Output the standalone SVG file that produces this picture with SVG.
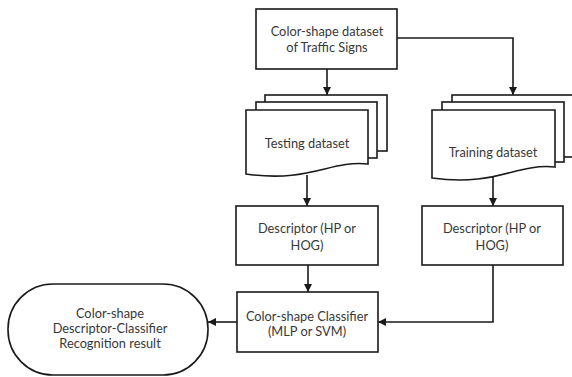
<svg xmlns="http://www.w3.org/2000/svg" width="572" height="377" viewBox="0 0 572 377">
  <style>
    .box { fill: #ffffff; stroke: #1a1a1a; stroke-width: 1.6; }
    .edge { fill: none; stroke: #1a1a1a; stroke-width: 1.6; }
    .lbl { font-family: Lato, "Open Sans", sans-serif; font-size: 12.8px; fill: #383838; text-anchor: middle; }
  </style>
  <defs>
    <marker id="arrow" viewBox="0 0 10 10" refX="10" refY="5" markerWidth="8" markerHeight="8" markerUnits="userSpaceOnUse" orient="auto">
      <path d="M0,0 L10,5 L0,10 z" fill="#1a1a1a"/>
    </marker>
  </defs>
  <rect width="572" height="377" fill="#ffffff"/>

  <g id="connectors">
    <path class="edge" d="M327,69 V95" marker-end="url(#arrow)"/>
    <path class="edge" d="M397,38 H513 V95" marker-end="url(#arrow)"/>
    <path class="edge" d="M307,175 V206" marker-end="url(#arrow)"/>
    <path class="edge" d="M493,176 V206" marker-end="url(#arrow)"/>
    <path class="edge" d="M308,265 V292" marker-end="url(#arrow)"/>
    <path class="edge" d="M493,265 V322 H378" marker-end="url(#arrow)"/>
    <path class="edge" d="M237,322 H208" marker-end="url(#arrow)"/>
  </g>

  <g id="source">
    <rect class="box" x="256" y="9" width="141" height="60"/>
    <text class="lbl" x="327" y="36">Color-shape dataset</text>
    <text class="lbl" x="327" y="52">of Traffic Signs</text>
  </g>

  <g id="testing">
    <rect class="box" x="265" y="95" width="122" height="56"/>
    <rect class="box" x="256" y="102" width="121" height="56"/>
    <path class="box" d="M246,110 H368 V164 C330,160 310,183 246,174 Z"/>
    <text class="lbl" x="307" y="148">Testing dataset</text>
  </g>

  <g id="training">
    <rect class="box" x="452" y="95" width="130" height="62"/>
    <rect class="box" x="442" y="102" width="122" height="60"/>
    <path class="box" d="M432,110 H555 V167 C516,163 496,187 432,178 Z"/>
    <text class="lbl" x="493" y="157">Training dataset</text>
  </g>

  <g id="descriptor-test">
    <rect class="box" x="236" y="206" width="142" height="59"/>
    <text class="lbl" x="307" y="233">Descriptor (HP or</text>
    <text class="lbl" x="307" y="250">HOG)</text>
  </g>

  <g id="descriptor-train">
    <rect class="box" x="422" y="206" width="141" height="59"/>
    <text class="lbl" x="492" y="233">Descriptor (HP or</text>
    <text class="lbl" x="492" y="250">HOG)</text>
  </g>

  <g id="classifier">
    <rect class="box" x="237" y="292" width="141" height="60"/>
    <text class="lbl" x="307" y="321">Color-shape Classifier</text>
    <text class="lbl" x="307" y="336">(MLP or SVM)</text>
  </g>

  <g id="result">
    <rect class="box" x="8" y="284" width="200" height="91" rx="45" ry="45"/>
    <text class="lbl" x="110" y="318">Color-shape</text>
    <text class="lbl" x="110" y="333">Descriptor-Classifier</text>
    <text class="lbl" x="110" y="348">Recognition result</text>
  </g>
</svg>
